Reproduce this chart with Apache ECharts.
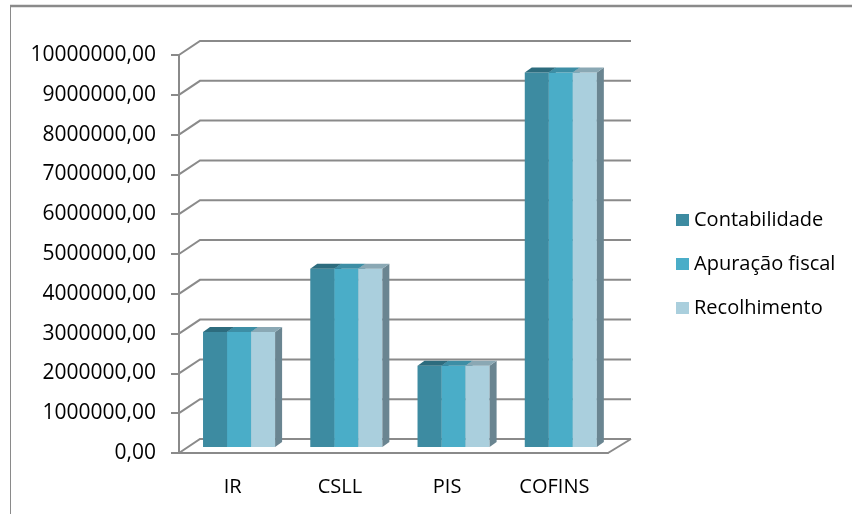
<!DOCTYPE html>
<html>
<head>
<meta charset="utf-8">
<script src="https://cdn.jsdelivr.net/npm/echarts@6/dist/echarts.min.js"></script>
<style>
  html, body { margin: 0; padding: 0; background: #fff; }
  #chart { width: 852px; height: 514px; }
</style>
</head>
<body>
<div id="chart"></div>
<script>
// Tax totals per source, one array per series
const categories = ['IR', 'CSLL', 'PIS', 'COFINS'];
const seriesNames = ['Contabilidade', 'Apuração fiscal', 'Recolhimento'];
const contabilidade = [2890000, 4480000, 2040000, 9410000];
const apuracaoFiscal = [2890000, 4480000, 2040000, 9410000];
const recolhimento = [2890000, 4480000, 2040000, 9410000];
const yTicks = [0, 1000000, 2000000, 3000000, 4000000, 5000000,
                6000000, 7000000, 8000000, 9000000, 10000000];

const FONT = '"Open Sans", "Liberation Sans", sans-serif';
const GRID_COLOR = '#8a8a8a';

// Faces of each 3D column: front, top, right side
const palette = [
  { front: '#3d8ba1', top: '#2d6c7e', side: '#356f80' },
  { front: '#4aadc8', top: '#3d8ea5', side: '#3f8ea5' },
  { front: '#aacfdd', top: '#8aa8b4', side: '#6a8591' }
];

// Oblique projection offsets
const WALL_DX = 21, WALL_DY = -14;   // back wall relative to front plane
const BAR_DX = 7, BAR_DY = -5;       // column depth
const BAR_SHIFT_Y = -6;              // columns stand a little behind the front edge

function wallRenderer(params, api) {
  const v = api.value(1);
  const p = api.coord([0, v]);
  const cs = params.coordSys;
  const y = p[1];
  const x0 = cs.x, x1 = cs.x + cs.width;
  const children = [{
    type: 'polyline',
    shape: { points: [[x0, y], [x0 + WALL_DX, y + WALL_DY], [x1 + WALL_DX + 2, y + WALL_DY]] },
    style: { stroke: GRID_COLOR, lineWidth: 2, fill: null }
  }];
  if (v === 0) {
    children.push({
      type: 'line',
      shape: { x1: x1, y1: y, x2: x1 + WALL_DX + 2, y2: y + WALL_DY },
      style: { stroke: GRID_COLOR, lineWidth: 2 }
    });
  }
  return { type: 'group', children: children };
}

function barRenderer(idx) {
  return function (params, api) {
    const c = api.value(0);
    const v = api.value(1);
    const base = api.coord([c, 0]);
    const top = api.coord([c, v]);
    const band = api.size([1, 0])[0];
    const w = band * 0.224;
    const x0 = base[0] - band * 0.276 + idx * w;
    const yb = base[1] + BAR_SHIFT_Y;
    const yt = top[1] + BAR_SHIFT_Y;
    const col = palette[idx];
    return {
      type: 'group',
      children: [
        { type: 'rect', shape: { x: x0, y: yt, width: w, height: yb - yt },
          style: { fill: col.front } },
        { type: 'polygon',
          shape: { points: [[x0 + w, yt], [x0 + w + BAR_DX, yt + BAR_DY],
                            [x0 + w + BAR_DX, yb + BAR_DY], [x0 + w, yb]] },
          style: { fill: col.side } },
        { type: 'polygon',
          shape: { points: [[x0, yt], [x0 + w, yt],
                            [x0 + w + BAR_DX, yt + BAR_DY], [x0 + BAR_DX, yt + BAR_DY]] },
          style: { fill: col.top } }
      ]
    };
  };
}

const seriesValues = [contabilidade, apuracaoFiscal, recolhimento];

const chart = echarts.init(document.getElementById('chart'), null, { renderer: 'canvas' });

chart.setOption({
  animation: false,
  backgroundColor: '#fff',
  textStyle: { fontFamily: FONT },
  graphic: [
    { type: 'line', shape: { x1: 10, y1: 6, x2: 852, y2: 6 },
      style: { stroke: GRID_COLOR, lineWidth: 2.5 } },
    { type: 'line', shape: { x1: 10.5, y1: 6, x2: 10.5, y2: 514 },
      style: { stroke: GRID_COLOR, lineWidth: 1 } }
  ],
  grid: { left: 179, right: 244, top: 55, bottom: 61, containLabel: false },
  legend: {
    orient: 'vertical',
    left: 676,
    top: 210,
    padding: 0,
    itemWidth: 13,
    itemHeight: 12,
    itemGap: 24,
    icon: 'rect',
    data: seriesNames,
    textStyle: { fontFamily: FONT, fontSize: 20, color: '#000', lineHeight: 20 }
  },
  xAxis: {
    type: 'category',
    data: categories,
    boundaryGap: true,
    axisLine: { lineStyle: { color: GRID_COLOR, width: 2 } },
    axisTick: { length: 5, lineStyle: { color: GRID_COLOR, width: 2 } },
    axisLabel: { margin: 24, fontSize: 20, color: '#000', fontFamily: FONT },
    splitLine: { show: false }
  },
  yAxis: {
    type: 'value',
    min: 0,
    max: 10000000,
    interval: 1000000,
    axisLine: { show: true, lineStyle: { color: GRID_COLOR, width: 2 } },
    axisTick: { show: true, length: 8, lineStyle: { color: GRID_COLOR, width: 2 } },
    axisLabel: {
      margin: 23, fontSize: 21, color: '#000', fontFamily: FONT,
      formatter: function (v) { return String(v) + ',00'; }
    },
    splitLine: { show: false }
  },
  series: [
    {
      type: 'custom',
      name: 'wall',
      silent: true,
      z: 1,
      renderItem: wallRenderer,
      encode: { x: 0, y: 1 },
      data: yTicks.map(function (v) { return [0, v]; })
    }
  ].concat(seriesNames.map(function (name, idx) {
    return {
      type: 'custom',
      name: name,
      z: 2,
      itemStyle: { color: palette[idx].front },
      renderItem: barRenderer(idx),
      encode: { x: 0, y: 1 },
      data: seriesValues[idx].map(function (v, i) { return [i, v]; })
    };
  }))
});
</script>
</body>
</html>
